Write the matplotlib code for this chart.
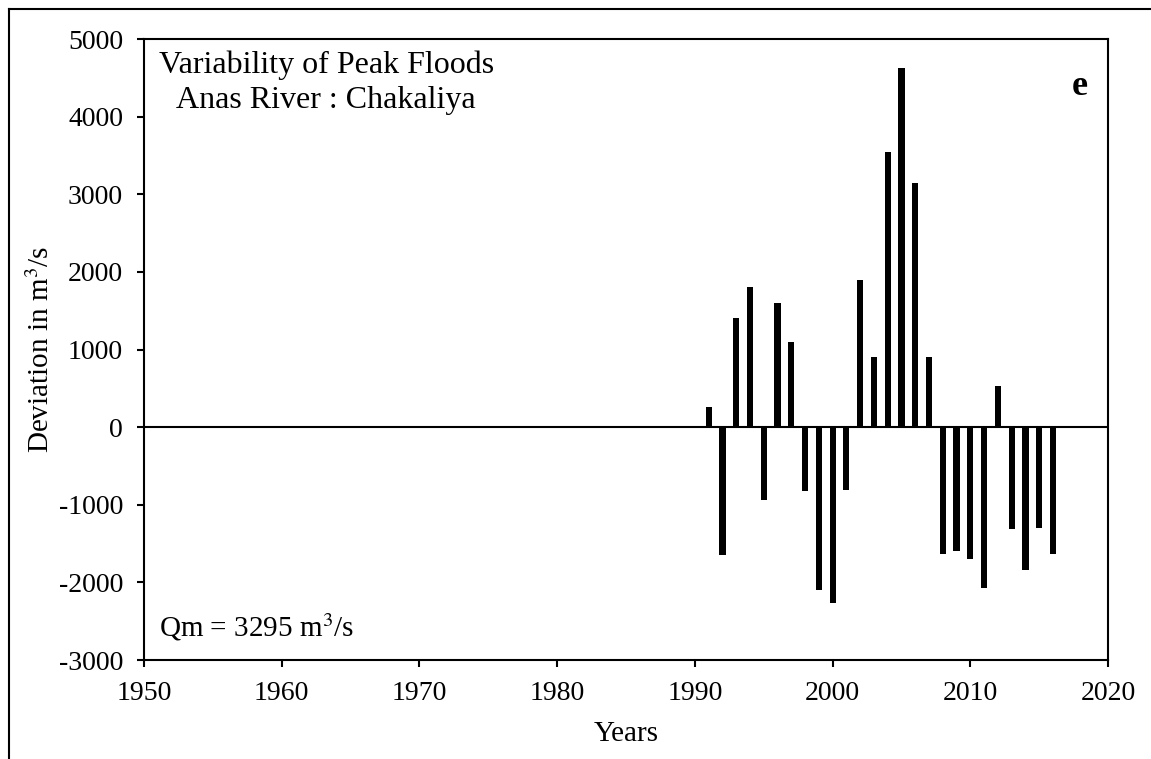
import matplotlib
matplotlib.use("Agg")
import matplotlib.pyplot as plt
from matplotlib.lines import Line2D

plt.rcParams['font.family'] = ['Liberation Serif', 'DejaVu Serif']
plt.rcParams['mathtext.fontset'] = 'stix'
plt.rcParams['axes.unicode_minus'] = False

# deviation of annual peak flood from mean (m3/s), Anas River at Chakaliya
Years = list(range(1991, 2017))
Deviation = [260, -1650, 1400, 1800, -940, 1600, 1100, -820, -2100, -2270,
             -810, 1900, 900, 3550, 4630, 3150, 900, -1640, -1600, -1700,
             -2070, 530, -1310, -1840, -1300, -1630]
XTicks = list(range(1950, 2021, 10))
YTicks = list(range(-3000, 5001, 1000))

fig = plt.figure(figsize=(11.51, 7.59), dpi=100)
ax = fig.add_axes([0.1251, 0.1304, 0.8376, 0.8182])

ax.bar(Years, Deviation, width=0.45, color='black')
ax.axhline(0, color='black', linewidth=1.5)

ax.set_xlim(1950, 2020)
ax.set_ylim(-3000, 5000)
ax.set_xticks(XTicks)
ax.set_yticks(YTicks)
ax.tick_params(direction='out', length=5, width=1.5, labelsize=20)
ax.tick_params(axis='y', pad=10)
ax.tick_params(axis='x', pad=10)
for s in ax.spines.values():
    s.set_linewidth(1.5)

ax.set_xlabel('Years', fontsize=21, labelpad=11)
ax.set_ylabel('Deviation in m$^3$/s', fontsize=21, labelpad=3)

ax.text(0.016, 0.945, 'Variability of Peak Floods', transform=ax.transAxes,
        fontsize=23, va='baseline', ha='left')
ax.text(0.033, 0.889, 'Anas River : Chakaliya', transform=ax.transAxes,
        fontsize=23, va='baseline', ha='left')
ax.text(0.979, 0.910, 'e', transform=ax.transAxes, fontsize=26,
        fontweight='bold', va='baseline', ha='right')
ax.text(0.016, 0.038, 'Qm = 3295 m$^3$/s', transform=ax.transAxes,
        fontsize=21, va='baseline', ha='left')

# frame lines at left and top of the picture
fig.add_artist(Line2D([0.008, 0.008], [0, 0.988], transform=fig.transFigure,
                      color='black', linewidth=1.5))
fig.add_artist(Line2D([0.008, 1.0], [0.988, 0.988], transform=fig.transFigure,
                      color='black', linewidth=1.5))

fig.savefig('out.png', dpi=100)
